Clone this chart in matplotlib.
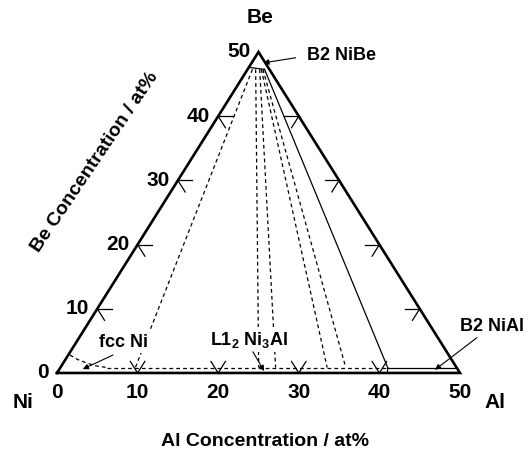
import matplotlib
matplotlib.use('Agg')
import matplotlib.pyplot as plt

plt.rcParams['font.family'] = ['Liberation Sans', 'DejaVu Sans']
plt.rcParams['font.weight'] = 'bold'
plt.rcParams['mathtext.fontset'] = 'custom'
plt.rcParams['mathtext.bf'] = 'Liberation Sans:bold'
plt.rcParams['mathtext.rm'] = 'Liberation Sans:bold'

# tick values (at%)
tick_vals = [10, 20, 30, 40]
label_vals = [0, 10, 20, 30, 40, 50]

# tie lines: (Al, Be) at the NiBe end and at the Ni-rich end
tie_top_al = [0.6, 1.0, 1.5, 1.7, 1.9]
tie_top_be = 47.3
tie_bot_al = [9.3, 24.6, 26.7, 33.1, 35.4]
tie_bot_be = 0.85

# three-phase triangle edge (solid)
solid_top = (2.1, 47.3)
solid_bot = (40.6, 0.85)

# fcc Ni solubility boundary
fcc_al = [0.2, 1.5, 2.9, 4.3, 5.8]
fcc_be = [2.8, 2.1, 1.55, 1.1, 0.85]

# B2 NiBe boundary
nibe_al = [0.0, 2.1]
nibe_be = [47.6, 47.3]


def tern(al, be):
    # Ni at origin, Al to the right, Be at the apex
    return al + be / 2.0, be


fig = plt.figure(figsize=(5.31, 4.59), dpi=100)
ax = fig.add_axes([0, 0, 1, 1])
ax.set_xlim(-7.07, 58.81)
ax.set_ylim(-13.4, 58.1)
ax.axis('off')

# triangle outline
tx, ty = zip(*[tern(0, 0), tern(50, 0), tern(0, 50), tern(0, 0)])
ax.plot(tx, ty, color='k', lw=1.9, solid_joinstyle='miter')

# ticks
L = 1.8
for v in tick_vals:
    x0, y0 = tern(v, 0)
    for dx, dy in [(-L / 2, L), (L / 2, L)]:
        ax.plot([x0, x0 + dx], [y0, y0 + dy], color='k', lw=0.9)
    x0, y0 = tern(0, v)
    for dx, dy in [(L, 0), (L / 2, -L)]:
        ax.plot([x0, x0 + dx], [y0, y0 + dy], color='k', lw=0.9)
    x0, y0 = tern(50 - v, v)
    for dx, dy in [(-L, 0), (-L / 2, -L)]:
        ax.plot([x0, x0 + dx], [y0, y0 + dy], color='k', lw=0.9)

# tick labels
for v in label_vals:
    x, y = tern(0, v)
    ax.text(x - 1.0, y, str(v), ha='right', va='center', fontsize=15)
    x, y = tern(v, 0)
    ax.text(x, y - 3.0, str(v), ha='center', va='center', fontsize=15)

# corner and axis labels
ax.text(-4.2, -4.6, 'Ni', ha='center', va='center', fontsize=15)
ax.text(54.3, -4.6, 'Al', ha='center', va='center', fontsize=15)
ax.text(25.2, 55.3, 'Be', ha='center', va='center', fontsize=15)
ax.text(25.8, -10.6, 'Al Concentration / at%', ha='center', va='center', fontsize=14)
ax.text(4.7, 32.9, 'Be Concentration / at%', ha='center', va='center',
        fontsize=14, rotation=56, rotation_mode='anchor')

dash = dict(color='k', lw=0.9, ls=(0, (3, 2.5)))
thin = dict(color='k', lw=0.9)

# tie lines
for a0, a1 in zip(tie_top_al, tie_bot_al):
    x0, y0 = tern(a0, tie_top_be)
    x1, y1 = tern(a1, tie_bot_be)
    ax.plot([x0, x1], [y0, y1], **dash)

x0, y0 = tern(*solid_top)
x1, y1 = tern(*solid_bot)
ax.plot([x0, x1], [y0, y1], **thin)

# NiBe boundary
px, py = zip(*[tern(a, b) for a, b in zip(nibe_al, nibe_be)])
ax.plot(px, py, **thin)

# fcc Ni boundary + Ni3Al boundary
px, py = zip(*[tern(a, b) for a, b in zip(fcc_al, fcc_be)])
ax.plot(px, py, **dash)
x0, y0 = tern(fcc_al[-1], tie_bot_be)
x1, y1 = tern(solid_bot[0], tie_bot_be)
ax.plot([x0, x1], [y0, y1], **dash)

# NiAl boundary
x0, y0 = tern(solid_bot[0], tie_bot_be)
x1, y1 = tern(50 - tie_bot_be, tie_bot_be)
ax.plot([x0, x1], [y0, y1], **thin)
x2, y2 = tern(41.0, 0)
ax.plot([x0, x2], [y0, y2], **thin)

# phase labels and their arrows
arrow = dict(arrowstyle='-|>', color='k', lw=0.8, mutation_scale=8, shrinkA=0, shrinkB=0)
box = dict(facecolor='white', edgecolor='none', pad=1.5)
labels = [
    ('fcc Ni', (8.3, 4.8), (6.95, 2.8), (3.2, 0.6)),
    (r'L1$_\mathbf{2}$ Ni$_\mathbf{3}$Al', (23.8, 5.2), (24.3, 3.3), (25.7, 0.3)),
    ('B2 NiBe', (35.3, 49.5), (29.6, 49.1), (25.6, 48.3)),
    ('B2 NiAl', (54.0, 7.3), (52.1, 5.5), (46.9, 0.5)),
]
for txt, pos, start, tip in labels:
    ax.text(pos[0], pos[1], txt, ha='center', va='center', fontsize=13,
            bbox=box, zorder=5)
    ax.annotate('', xy=tip, xytext=start, arrowprops=arrow, zorder=6)

fig.savefig('out.png', dpi=100)
